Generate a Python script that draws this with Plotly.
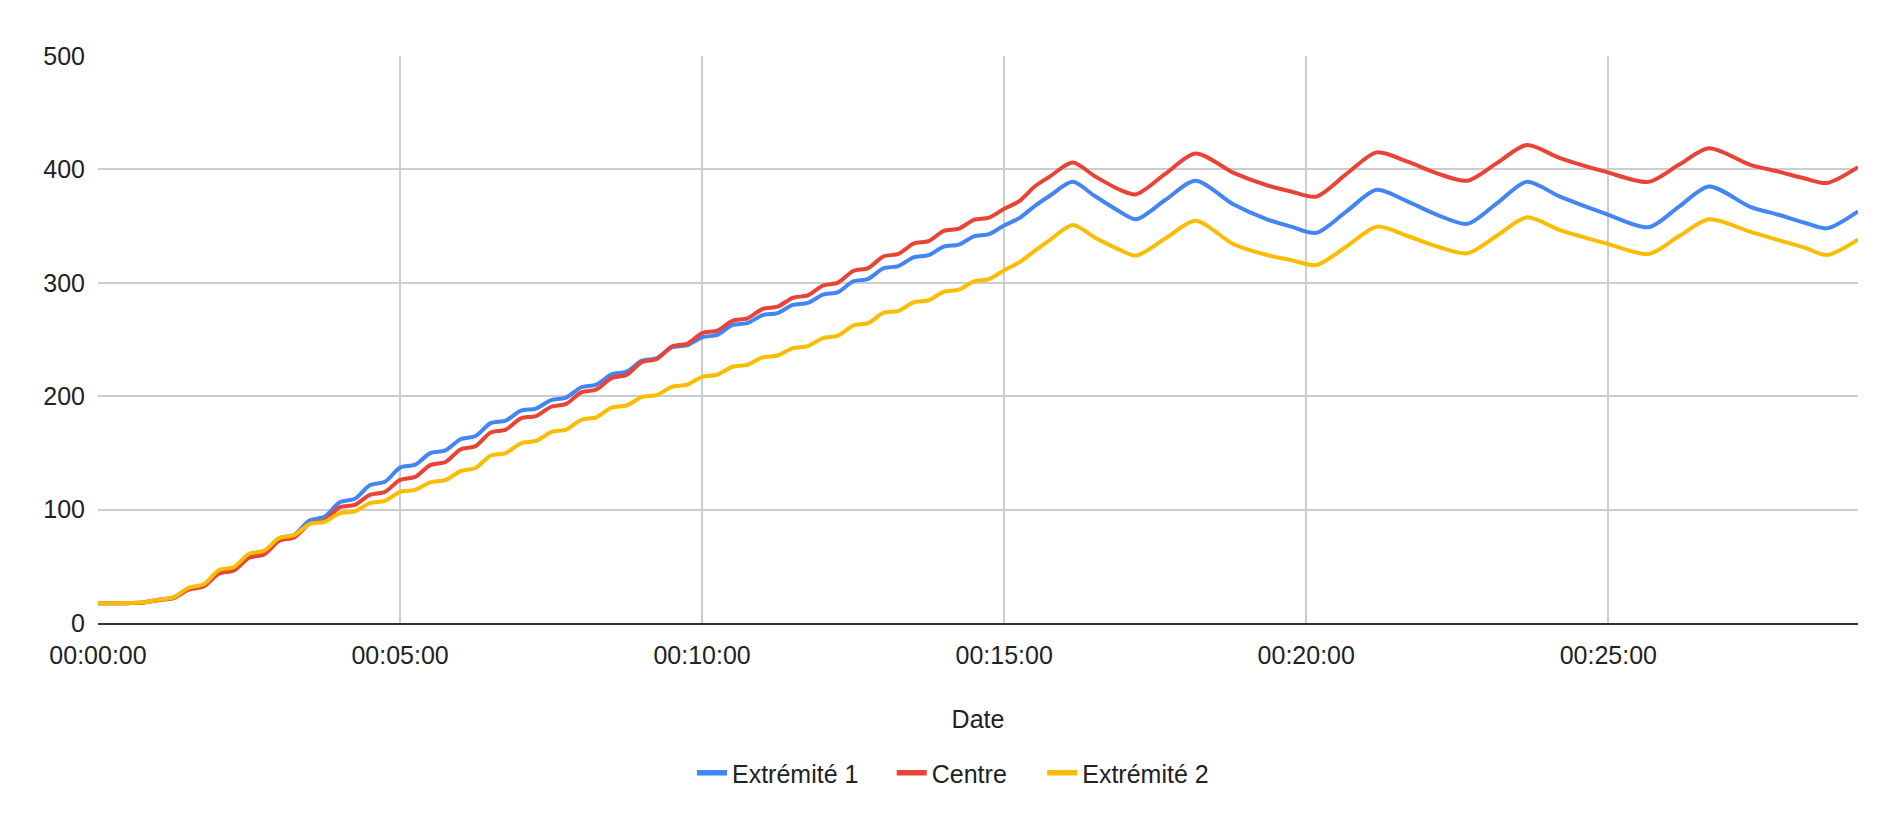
import plotly.graph_objects as go
import pandas as pd

# Time since start (seconds)
TIME_S = [0, 15, 30, 45, 60, 75, 90, 105, 120, 135, 150, 165, 180, 195, 210, 225,
          240, 255, 270, 285, 300, 315, 330, 345, 360, 375, 390, 405, 420, 435, 450,
          465, 480, 495, 510, 525, 540, 555, 570, 585, 600, 615, 630, 645, 660, 675,
          690, 705, 720, 735, 750, 765, 780, 795, 810, 825, 840, 855, 870, 885, 900,
          915, 930,
          945, 968, 990, 1015, 1031, 1060, 1090, 1128, 1161, 1185, 1210, 1240, 1270,
          1300, 1330, 1360, 1390, 1419, 1452, 1497, 1540, 1570, 1600, 1641, 1669,
          1695, 1717, 1748]

EXTREMITE_1 = [17.4, 17.4, 17.5, 18.1, 20.5, 22.5, 30.3, 33.3, 45.5, 48.4, 60.0, 62.9,
               74.7, 77.8, 90.4, 93.6, 106.5, 109.5, 121.5, 124.6, 137.0, 139.6, 149.8,
               152.2, 162.0, 164.9, 176.3, 178.5, 187.2, 189.1, 196.5, 198.8, 207.9,
               210.2, 219.2, 221.6, 231.3, 233.6, 243.0, 244.8, 252.0, 254.1, 262.6,
               264.4, 271.5, 273.3, 280.5, 282.3, 289.5, 291.8, 301.2, 303.5, 312.8,
               314.7, 322.5, 324.4, 331.9, 333.7, 341.0, 342.9, 350.6, 357.0, 367.5,
               376.5, 389.0, 376.5, 362.7, 356.0, 373.0, 390.0, 369.0, 356.0, 349.5,
               344.0, 363.0, 382.0, 372.0, 360.0, 352.0, 370.5, 389.0, 376.0, 361.0,
               349.0, 367.0, 385.0, 367.0, 360.0, 353.0, 348.0, 363.0]

CENTRE = [17.4, 17.4, 17.5, 18.0, 20.0, 21.9, 29.5, 32.3, 43.5, 46.3, 57.5, 60.5,
          72.5, 75.5, 87.5, 90.4, 102.0, 104.2, 113.0, 115.6, 126.2, 128.8, 139.2,
          142.0, 153.0, 156.0, 168.0, 170.5, 180.5, 182.5, 190.7, 193.2, 203.4,
          205.9, 216.0, 218.8, 230.0, 232.8, 243.8, 246.2, 255.6, 257.8, 266.5,
          268.6, 276.9, 278.9, 286.8, 288.9, 297.5, 300.1, 310.4, 313.0, 323.2,
          325.5, 334.6, 336.8, 345.8, 347.7, 355.5, 357.5, 365.3, 372.0, 384.7,
          393.5, 406.0, 394.0, 382.0, 378.0, 396.0, 414.0, 397.0, 386.0, 380.5,
          376.0, 396.0, 415.0, 407.0, 396.5, 390.0, 406.0, 421.5, 410.0, 398.0,
          389.0, 404.0, 418.6, 404.0, 398.0, 392.0, 388.0, 402.0]

EXTREMITE_2 = [17.4, 17.4, 17.6, 18.2, 20.5, 22.6, 31.0, 34.1, 46.5, 49.4, 61.0, 63.8,
               75.0, 77.5, 87.3, 89.2, 96.7, 98.5, 105.7, 107.7, 115.7, 117.4, 124.0,
               126.0, 134.0, 136.7, 147.7, 149.9, 158.5, 160.5, 168.4, 170.6, 179.2,
               181.4, 190.0, 191.8, 199.2, 201.0, 208.3, 210.1, 217.1, 218.9, 226.0,
               227.7, 234.3, 235.9, 242.4, 244.2, 251.3, 253.5, 262.3, 264.5, 273.4,
               275.3, 282.8, 284.6, 292.0, 293.9, 301.3, 303.3, 311.1, 318.0, 328.0,
               337.5, 351.0, 340.0, 329.0, 324.0, 339.0, 354.7, 334.0, 324.5, 320.0,
               315.7, 332.0, 349.5, 341.5, 332.0, 326.0, 342.0, 357.7, 346.5, 335.0,
               325.4, 341.0, 356.0, 345.0, 337.7, 331.0, 324.5, 338.0]

SERIES = [("Extrémité 1", EXTREMITE_1, "#4285F4"),
          ("Centre", CENTRE, "#EA4335"),
          ("Extrémité 2", EXTREMITE_2, "#FBBC04")]

x = pd.to_datetime(TIME_S, unit="s")

fig = go.Figure()
for name, vals, color in SERIES:
    fig.add_trace(go.Scatter(
        x=x, y=vals, name=name, mode="lines", showlegend=False,
        line=dict(color=color, width=4, shape="spline", smoothing=0.8),
    ))

# legend-only entries (thick short swatches), one legend per entry for spacing
LEGEND_IDS = ["legend", "legend2", "legend3"]
LEGEND_X = [0.3375, 0.451, 0.5365]
for (name, vals, color), lid in zip(SERIES, LEGEND_IDS):
    fig.add_trace(go.Scatter(
        x=[None], y=[None], name=name, mode="lines", legend=lid, showlegend=True,
        line=dict(color=color, width=5.5),
    ))

legend_common = dict(orientation="h", y=-0.2646, yanchor="middle", xanchor="left",
                     font=dict(size=25, color="#222222"), itemwidth=30,
                     bgcolor="rgba(0,0,0,0)")

fig.update_layout(
    width=1900, height=829,
    margin=dict(l=98, r=42, t=56, b=206),
    paper_bgcolor="white", plot_bgcolor="white",
    font=dict(family="Liberation Sans, Arial, sans-serif", size=25, color="#222222"),
    showlegend=True,
    legend=dict(x=LEGEND_X[0], **legend_common),
    legend2=dict(x=LEGEND_X[1], **legend_common),
    legend3=dict(x=LEGEND_X[2], **legend_common),
)
fig.update_xaxes(
    type="date",
    range=["1970-01-01 00:00:00", "1970-01-01 00:29:08"],
    tickformat="%H:%M:%S", tick0="1970-01-01 00:00:00", dtick=300000,
    showgrid=True, gridcolor="#cccccc", gridwidth=1.5,
    showline=True, linecolor="#333333", linewidth=2,
    zeroline=False, ticks="", ticklabelstandoff=9,
    title=dict(text="Date", standoff=42, font=dict(size=25)),
)
fig.update_yaxes(
    range=[0, 500], dtick=100,
    showgrid=True, gridcolor="#cccccc", gridwidth=1.5,
    zeroline=False, showline=False, ticks="", ticklabelstandoff=12,
)

fig.write_html("out.html")
